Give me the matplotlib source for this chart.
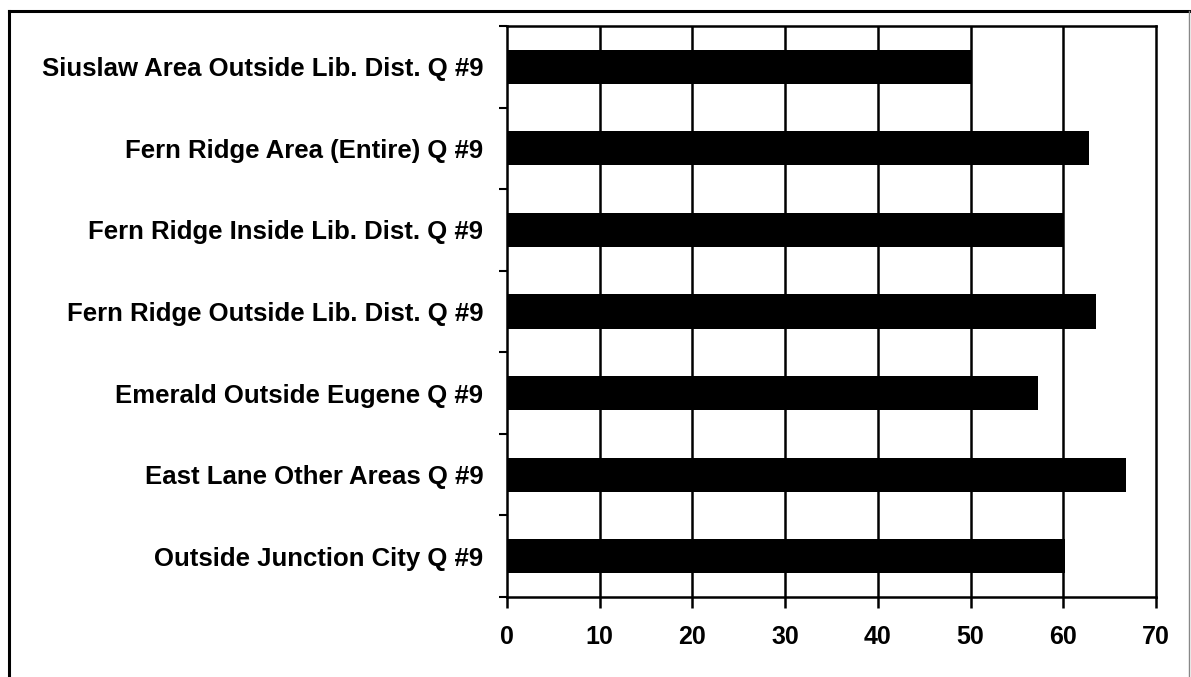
import matplotlib
matplotlib.use("Agg")
import matplotlib.pyplot as plt
import numpy as np
from matplotlib.lines import Line2D

categories = [
    "Siuslaw Area Outside Lib. Dist. Q #9",
    "Fern Ridge Area (Entire) Q #9",
    "Fern Ridge Inside Lib. Dist. Q #9",
    "Fern Ridge Outside Lib. Dist. Q #9",
    "Emerald Outside Eugene Q #9",
    "East Lane Other Areas Q #9",
    "Outside Junction City Q #9",
]
values = [50.0, 62.8, 60.1, 63.5, 57.3, 66.8, 60.2]
xticks = [0, 10, 20, 30, 40, 50, 60, 70]

plt.rcParams['font.family'] = ['Liberation Sans', 'DejaVu Sans']

W, H = 1191, 677
fig = plt.figure(figsize=(W/100, H/100), dpi=100)
ax = fig.add_axes([507/W, 1-597/H, (1156-507)/W, (597-26)/H])

n = len(categories)
ypos = np.arange(n)[::-1]
ax.barh(ypos, values, height=0.42, color='black', zorder=3)
ax.set_ylim(-0.5, n-0.5)
ax.set_xlim(0, 70)
ax.set_xticks(xticks)
ax.set_xticklabels([str(t) for t in xticks], fontsize=18, fontweight='bold')
for x in xticks[1:-1]:
    ax.axvline(x, color='black', lw=1.8, zorder=1)

ax.set_yticks(ypos)
ax.set_yticklabels(categories, fontsize=18.5, fontweight='bold')
ax.set_yticks(np.arange(-0.5, n, 1.0), minor=True)
ax.tick_params(axis='y', which='major', length=0, pad=17)
ax.tick_params(axis='y', which='minor', length=6, width=1.5, direction='out')
ax.tick_params(axis='x', which='major', length=8, width=1.8, direction='out', pad=12)

for s in ax.spines.values():
    s.set_linewidth(1.8)

# outer frame of the scanned chart
fig.add_artist(Line2D([9/W, 9/W], [0, 1-11/H], transform=fig.transFigure, color='black', lw=2.2))
fig.add_artist(Line2D([9/W, 1], [1-11/H, 1-11/H], transform=fig.transFigure, color='black', lw=2.2))
fig.add_artist(Line2D([1189/W, 1189/W], [0, 1-11/H], transform=fig.transFigure, color='#888888', lw=1))

fig.savefig("out.png", dpi=100)
